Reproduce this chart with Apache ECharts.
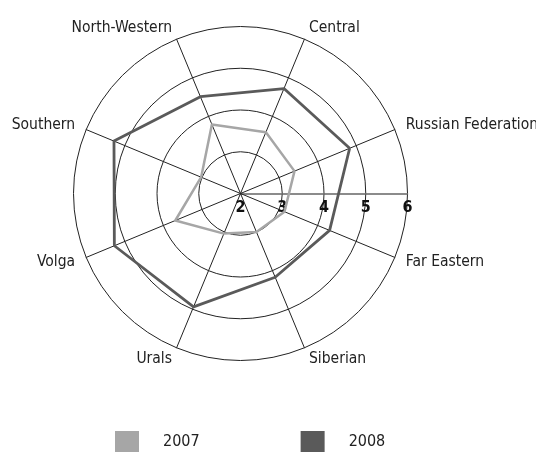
<!DOCTYPE html>
<html>
<head>
<meta charset="utf-8">
<script src="https://cdn.jsdelivr.net/npm/echarts@6/dist/echarts.min.js"></script>
<style>
  html, body { margin: 0; padding: 0; background: #fff; }
  #main { width: 536px; height: 452px; }
</style>
</head>
<body>
<div id="main"></div>
<script>
// 联邦区（逆时针，从 Russian Federation 开始）
var districts = ['Russian Federation', 'Central', 'North-Western', 'Southern', 'Volga', 'Urals', 'Siberian', 'Far Eastern'];
var years = ['2007', '2008'];
var values2007 = [3.40, 3.59, 3.79, 3.02, 3.69, 3.04, 3.00, 3.14];
var values2008 = [4.83, 4.72, 4.51, 5.28, 5.27, 4.94, 4.17, 4.31];
var axisMin = 2, axisMax = 6;

var font = "'DejaVu Sans Condensed', 'Liberation Sans Narrow', sans-serif";
var center = [240.5, 193.5];
var radius = 167;

var chart = echarts.init(document.getElementById('main'));

var option = {
    animation: false,
    legend: {
        data: years,
        top: 431,
        left: 115,
        padding: 0,
        itemWidth: 24,
        itemHeight: 21,
        itemGap: 101,
        icon: 'rect',
        textStyle: { fontFamily: font, fontSize: 16, color: '#222', padding: [0, 0, 0, 19] }
    },
    radar: {
        center: center,
        radius: radius,
        startAngle: 22.5,
        shape: 'circle',
        splitNumber: 4,
        indicator: districts.map(function (d) {
            return { name: d, min: axisMin, max: axisMax };
        }),
        axisName: { color: '#222', fontFamily: font, fontSize: 15.5 },
        nameGap: 12,
        axisLine: { lineStyle: { color: '#222', width: 1 } },
        splitLine: { lineStyle: { color: '#222', width: 1 } },
        splitArea: { show: false },
        axisTick: { show: false },
        axisLabel: { show: false }
    },
    // 水平刻度轴（标签放在线下方）
    polar: { center: center, radius: radius },
    angleAxis: { type: 'value', startAngle: 0, show: false },
    radiusAxis: {
        type: 'value',
        min: axisMin,
        max: axisMax,
        interval: 1,
        axisLine: { lineStyle: { color: '#666', width: 1.5 } },
        axisTick: { show: false },
        splitLine: { show: false },
        axisLabel: { color: '#111', fontFamily: font, fontSize: 16, fontWeight: 'bold', margin: -22 }
    },
    series: [{
        type: 'radar',
        symbol: 'none',
        data: [
            { name: '2007', value: values2007,
              itemStyle: { color: '#a6a6a6', borderColor: '#888' },
              lineStyle: { color: '#a6a6a6', width: 2.5 } },
            { name: '2008', value: values2008,
              itemStyle: { color: '#5a5a5a', borderColor: '#404040' },
              lineStyle: { color: '#5a5a5a', width: 2.8 } }
        ]
    }]
};

chart.setOption(option);
</script>
</body>
</html>
